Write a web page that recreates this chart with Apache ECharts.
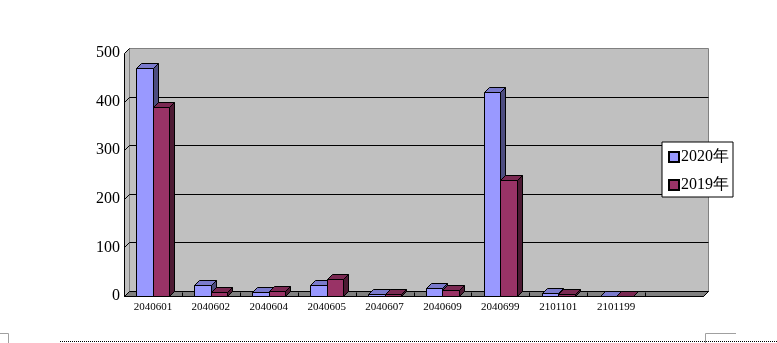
<!DOCTYPE html>
<html>
<head>
<meta charset="utf-8">
<script src="https://cdn.jsdelivr.net/npm/echarts@6/dist/echarts.min.js"></script>
<style>
html,body{margin:0;padding:0;background:#fff;}
#main{width:777px;height:343px;}
</style>
</head>
<body>
<div id="main"></div>
<script>
var categories = ['2040601','2040602','2040604','2040605','2040607','2040609','2040699','2101101','2101199',''];
var series2020 = [470, 22, 8, 22, 5, 17, 419, 6, 1, null];
var series2019 = [388, 8, 10, 34, 4, 12, 238, 4, 1, null];
var yTicks = [0, 100, 200, 300, 400, 500];
var seriesNames = ['2020年', '2019年'];

var DX = 5, DY = -5;
function px(v){ return Math.round(v) + 0.5; }

function barRenderer(idx, front, topC, side) {
  return function (params, api) {
    var ci = api.value(0), v = api.value(1);
    if (v === null || isNaN(v)) return null;
    var base = api.coord([ci, 0]);
    var top = api.coord([ci, v]);
    var band = api.size([1, 0])[0];
    var w = band * 0.285;
    var x0 = px(idx === 0 ? base[0] - w : base[0]);
    var x1 = px((idx === 0 ? base[0] - w : base[0]) + w);
    var yb = px(base[1]), yt = px(top[1]);
    var st = {stroke: '#000', lineWidth: 1};
    return {
      type: 'group',
      children: [
        {type: 'polygon', shape: {points: [[x0, yt], [x1, yt], [x1, yb], [x0, yb]]}, style: Object.assign({fill: front}, st)},
        {type: 'polygon', shape: {points: [[x0, yt], [x0 + DX, yt + DY], [x1 + DX, yt + DY], [x1, yt]]}, style: Object.assign({fill: topC}, st)},
        {type: 'polygon', shape: {points: [[x1, yt], [x1 + DX, yt + DY], [x1 + DX, yb + DY], [x1, yb]]}, style: Object.assign({fill: side}, st)}
      ]
    };
  };
}

function wallRenderer(params, api) {
  var cs = params.coordSys;
  var L = px(cs.x), R = px(cs.x + cs.width);
  var yTop = px(api.coord([0, yTicks[yTicks.length - 1]])[1]);
  var y0 = px(api.coord([0, 0])[1]);
  var band = api.size([1, 0])[0];
  var ch = [];
  ch.push({type: 'polygon', shape: {points: [[L + DX, yTop + DY], [R + DX, yTop + DY], [R + DX, y0 + DY], [L + DX, y0 + DY]]}, style: {fill: '#C0C0C0', stroke: '#808080', lineWidth: 1}});
  ch.push({type: 'polygon', shape: {points: [[L, yTop], [L + DX, yTop + DY], [L + DX, y0 + DY], [L, y0]]}, style: {fill: '#C0C0C0', stroke: '#808080', lineWidth: 1}});
  for (var i = 1; i < yTicks.length; i++) {
    var y = px(api.coord([0, yTicks[i]])[1]);
    if (i < yTicks.length - 1) {
      ch.push({type: 'line', shape: {x1: L + DX, y1: y + DY, x2: R + DX, y2: y + DY}, style: {stroke: '#000', lineWidth: 1}});
    }
    ch.push({type: 'line', shape: {x1: L, y1: y, x2: L + DX, y2: y + DY}, style: {stroke: '#000', lineWidth: 1}});
  }
  ch.push({type: 'polygon', shape: {points: [[L, y0], [L + DX, y0 + DY], [R + DX, y0 + DY], [R, y0]]}, style: {fill: '#808080', stroke: '#000', lineWidth: 1}});
  for (var k = 1; k < categories.length; k++) {
    var x = px(cs.x + k * band);
    ch.push({type: 'line', shape: {x1: x, y1: y0, x2: x, y2: y0 + DY + 1}, style: {stroke: '#000', lineWidth: 1}});
  }
  ch.push({type: 'line', shape: {x1: L, y1: yTop, x2: L, y2: y0}, style: {stroke: '#000', lineWidth: 1}});
  ch.push({type: 'line', shape: {x1: L, y1: y0, x2: R, y2: y0}, style: {stroke: '#000', lineWidth: 1}});
  ch.push({type: 'line', shape: {x1: R, y1: y0, x2: R + DX, y2: y0 + DY}, style: {stroke: '#000', lineWidth: 1}});
  return {type: 'group', children: ch};
}

var chart = echarts.init(document.getElementById('main'), null, {renderer: 'canvas'});
chart.setOption({
  animation: false,
  backgroundColor: '#ffffff',
  grid: {left: 124, right: 74, top: 53, bottom: 47, containLabel: false},
  xAxis: {
    type: 'category', data: categories,
    axisLine: {show: false}, axisTick: {show: false}, splitLine: {show: false},
    axisLabel: {interval: 0, fontSize: 11, fontFamily: 'Liberation Serif', color: '#000', margin: 6}
  },
  yAxis: {
    type: 'value', min: 0, max: 500, interval: 100,
    axisLine: {show: false}, axisTick: {show: false}, splitLine: {show: false},
    axisLabel: {fontSize: 16, fontFamily: 'Liberation Serif', color: '#000', margin: 4}
  },
  legend: {
    data: seriesNames,
    orient: 'vertical', left: 662, top: 142,
    backgroundColor: '#fff', borderColor: '#000', borderWidth: 1,
    padding: [7, 4, 4, 6], itemWidth: 10, itemHeight: 10, itemGap: 12,
    icon: 'rect', selectedMode: false,
    textStyle: {fontSize: 16, fontFamily: 'Liberation Serif', color: '#000', padding: [0, 0, 0, -3]}
  },
  series: [
    {type: 'custom', name: 'walls', z: 1, silent: true, renderItem: wallRenderer, data: [[0, 0]]},
    {type: 'custom', name: seriesNames[0], z: 2, renderItem: barRenderer(0, '#9999FF', '#7A7ACC', '#4D4D80'),
      itemStyle: {color: '#9999FF', borderColor: '#000', borderWidth: 1},
      data: series2020.map(function (v, i) { return [i, v]; })},
    {type: 'custom', name: seriesNames[1], z: 3, renderItem: barRenderer(1, '#993366', '#7A2952', '#4D1A33'),
      itemStyle: {color: '#993366', borderColor: '#000', borderWidth: 1},
      data: series2019.map(function (v, i) { return [i, v]; })}
  ],
  graphic: [
    {type: 'line', shape: {x1: 60, y1: 341.5, x2: 777, y2: 341.5}, style: {stroke: '#000', lineWidth: 1, lineDash: [1, 1]}},
    {type: 'polyline', shape: {points: [[0, 333.5], [8.5, 333.5], [8.5, 343]]}, style: {stroke: '#A0A0A0', lineWidth: 1, fill: null}},
    {type: 'polyline', shape: {points: [[736, 333.5], [705.5, 333.5], [705.5, 343]]}, style: {stroke: '#A0A0A0', lineWidth: 1, fill: null}}
  ]
});
</script>
</body>
</html>
